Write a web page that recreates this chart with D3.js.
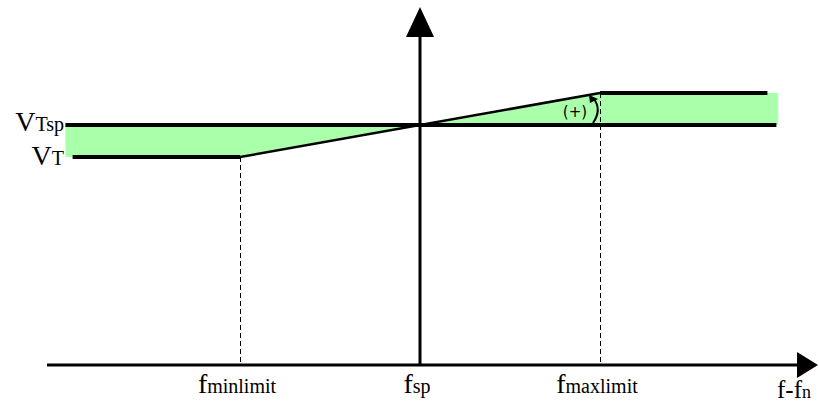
<!DOCTYPE html>
<html>
<head>
<meta charset="utf-8">
<script src="https://cdn.jsdelivr.net/npm/d3@7"></script>
<style>
  html, body { margin: 0; padding: 0; background: #fff; }
  svg { display: block; }
  text { font-family: "Liberation Serif", "DejaVu Serif", serif; fill: #000; }
</style>
</head>
<body>
<svg id="chart" width="819" height="406"></svg>
<script>
// Frequency offsets (relative units: fminlimit = -1, fsp = 0, fmaxlimit = 1)
const freqTicks = [-1, 0, 1];
const freqTickMain = ["f", "f", "f"];
const freqTickSub = ["minlimit", "sp", "maxlimit"];

// Characteristic V_T(f): flat at V_T, ramp through V_Tsp at fsp, flat beyond fmaxlimit
const charFreq = [-1.93, -1, 1, 1.93];
const charVolt = [-1, -1, 1, 1];

// Setpoint line V_Tsp
const spFreq = [-1.97, 1.98];
const spVolt = [0, 0];

// Shaded region between characteristic and setpoint
const fillFreq = [-1.97, -1, 0, 1, 1.99];
const fillVolt = [-1, -1, 0, 1, 1];

// Voltage level labels
const voltLevels = [0, -1];
const voltMain = ["V", "V"];
const voltSub = ["Tsp", "T"];

const svg = d3.select("#chart");

const x = d3.scaleLinear().domain([-1, 1]).range([240, 600]);
const y = d3.scaleLinear().domain([-1, 1]).range([157, 93]);

const axisY = 365;   // horizontal axis baseline
const axisX = x(0);  // vertical axis at fsp

// green shaded area
const area = d3.area()
  .x(d => x(d[0]))
  .y0(y(0))
  .y1(d => y(d[1]));
svg.append("path")
  .datum(fillFreq.map((f, i) => [f, fillVolt[i]]))
  .attr("d", area)
  .attr("fill", "#aaffaa");

// dashed drop lines at the limits
svg.selectAll("line.drop")
  .data([-1, 1])
  .join("line")
  .attr("class", "drop")
  .attr("x1", d => Math.round(x(d)) + 0.5).attr("x2", d => Math.round(x(d)) + 0.5)
  .attr("y1", d => y(d)).attr("y2", axisY)
  .attr("stroke", "#000")
  .attr("stroke-width", 1)
  .attr("stroke-dasharray", "5,3");

// setpoint line
const line = d3.line().x(d => x(d[0])).y(d => y(d[1]));
svg.append("path")
  .datum(spFreq.map((f, i) => [f, spVolt[i]]))
  .attr("d", line)
  .attr("fill", "none")
  .attr("stroke", "#000")
  .attr("stroke-width", 4);

// characteristic: flat segments thick, ramp thinner
const charPts = charFreq.map((f, i) => [f, charVolt[i]]);
svg.append("path")
  .datum([charPts[0], charPts[1]])
  .attr("d", line).attr("fill", "none").attr("stroke", "#000").attr("stroke-width", 4);
svg.append("path")
  .datum([charPts[1], charPts[2]])
  .attr("d", line).attr("fill", "none").attr("stroke", "#000").attr("stroke-width", 2.5);
svg.append("path")
  .datum([charPts[2], charPts[3]])
  .attr("d", line).attr("fill", "none").attr("stroke", "#000").attr("stroke-width", 4);

// axes
svg.append("line")
  .attr("x1", 47).attr("x2", 797)
  .attr("y1", axisY).attr("y2", axisY)
  .attr("stroke", "#000").attr("stroke-width", 3);
svg.append("path")
  .attr("d", `M${797},${axisY - 13} L${818},${axisY} L${797},${axisY + 13} Z`)
  .attr("fill", "#000");

svg.append("line")
  .attr("x1", axisX).attr("x2", axisX)
  .attr("y1", axisY).attr("y2", 35)
  .attr("stroke", "#000").attr("stroke-width", 3);
svg.append("path")
  .attr("d", `M${axisX - 14},${37} L${axisX},${7} L${axisX + 14},${37} Z`)
  .attr("fill", "#000");

// frequency tick labels
const tl = svg.selectAll("text.ftick")
  .data(freqTicks)
  .join("text")
  .attr("class", "ftick")
  .attr("x", d => x(d) - 3)
  .attr("y", 393)
  .attr("text-anchor", "middle");
tl.append("tspan").attr("font-size", 28).text((d, i) => freqTickMain[i]);
tl.append("tspan").attr("font-size", 20).text((d, i) => freqTickSub[i]);

// horizontal axis title
const xt = svg.append("text").attr("x", 777).attr("y", 398);
xt.append("tspan").attr("font-size", 25).text("f-f");
xt.append("tspan").attr("font-size", 18).text("n");

// voltage labels
const vl = svg.selectAll("text.vlab")
  .data(voltLevels)
  .join("text")
  .attr("class", "vlab")
  .attr("x", 64)
  .attr("y", d => y(d) + (d === 0 ? 6 : 8))
  .attr("text-anchor", "end");
vl.append("tspan").attr("font-size", 28).text((d, i) => voltMain[i]);
vl.append("tspan").attr("font-size", 20).text((d, i) => voltSub[i]);

// "(+)" rotation indicator near fmaxlimit
svg.append("text")
  .attr("x", 575).attr("y", 117)
  .attr("text-anchor", "middle")
  .attr("font-size", 15)
  .style("font-family", "'DejaVu Sans', sans-serif")
  .text("(+)");
svg.append("path")
  .attr("d", "M593,123 Q602,110 594,99")
  .attr("fill", "none").attr("stroke", "#000").attr("stroke-width", 2);
svg.append("path")
  .attr("d", "M589,95 L598,99 L590,103 Z")
  .attr("fill", "#000");
</script>
</body>
</html>
